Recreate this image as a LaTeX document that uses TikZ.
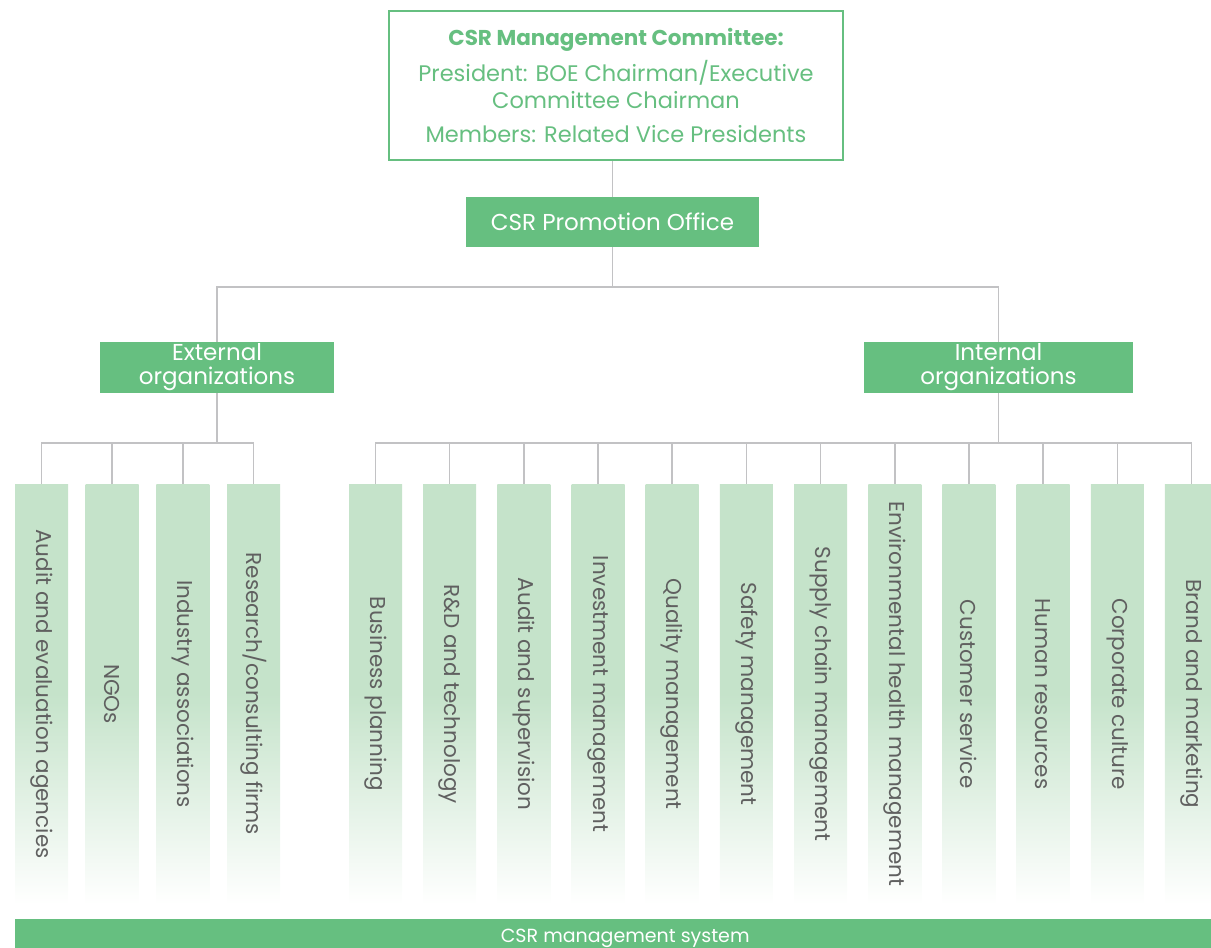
\documentclass[tikz,border=0pt]{standalone}
\usepackage{fontspec}
\setmainfont{Poppins}
\usepackage{tikz}
\usetikzlibrary{shapes, arrows, positioning}
\definecolor{csrgreen}{HTML}{66BF80}
\definecolor{csrpale}{HTML}{C5E3CA}
\definecolor{linkgrey}{HTML}{C2C2C4}
\definecolor{labelgrey}{HTML}{606060}
\tikzstyle{board} = [rectangle, draw=csrgreen, line width=1.5pt, fill=white, text=csrgreen, align=center, 
minimum width=454pt, minimum height=149pt, font=\fontsize{22.5}{27}\selectfont]
\tikzstyle{block} = [rectangle, fill=csrgreen, text=white, align=center, inner sep=0pt, font=\fontsize{23}{24}\selectfont]
\tikzstyle{column} = [rectangle, top color=csrpale, bottom color=white, middle color=csrpale, 
minimum width=53pt, minimum height=420pt, inner sep=0pt, text=labelgrey, font=\fontsize{21.5}{21.5}\selectfont]
\tikzstyle{line} = [draw, linkgrey, line width=1.6pt]

\begin{document}
\begin{tikzpicture}[x=1pt, y=-1pt]
	\useasboundingbox (0,0) rectangle (1211,948);
	\clip (0,0) rectangle (1211,948);
	
	% Place nodes
	\node [board] 											(committee)	at (616,85.5)	{{\fontsize{21.5}{27}\selectfont\textbf{CSR Management Committee:}}\\[7pt] President: BOE Chairman/Executive\\ Committee Chairman\\[7pt] Members: Related Vice Presidents};
	\node [block, minimum width=293pt, minimum height=50pt]	(promo)		at (612.5,222)	{CSR Promotion Office};
	\node [block, minimum width=234pt, minimum height=51pt]	(external)	at (217,367.5)	{External\\organizations};
	\node [block, minimum width=269pt, minimum height=51pt]	(internal)	at (998.5,367.5) {Internal\\organizations};
	\foreach \name [count=\i] in {Audit and evaluation agencies, NGOs, Industry associations, Research/consulting firms}
		\node [column] (ext\i) at ({41.5+70.67*(\i-1)},694) {\rotatebox{-90}{\name}};
	\foreach \name [count=\i] in {Business planning, R\&D and technology, Audit and supervision, Investment management, Quality management, Safety management, Supply chain management, Environmental health management, Customer service, Human resources, Corporate culture, Brand and marketing}
		\node [column] (int\i) at ({375.5+74.18*(\i-1)},694) {\rotatebox{-90}{\name}};
	\node [block, minimum width=1220pt, minimum height=38pt, anchor=north west, font=\fontsize{19}{19}\selectfont] (system) at (15,919) {CSR management system};
	\coordinate (fork)		at (612.5,287);
	\coordinate (extfork)	at (217,443);
	\coordinate (intfork)	at (998.5,443);
	
	%Draw edges
	\path [line] (committee.south -| promo)	-- 		(promo);
	\path [line] (promo)					-- 		(fork);
	\path [line] (fork)						-| 		(external);
	\path [line] (fork)						-| 		(internal);
	\path [line] (external)					-- 		(extfork);
	\path [line] (internal)					-- 		(intfork);
	\foreach \i in {1,...,4}
		\path [line] (extfork) -| (ext\i);
	\foreach \i in {1,...,12}
		\path [line] (intfork) -| (int\i);
	
\end{tikzpicture}
\end{document}
